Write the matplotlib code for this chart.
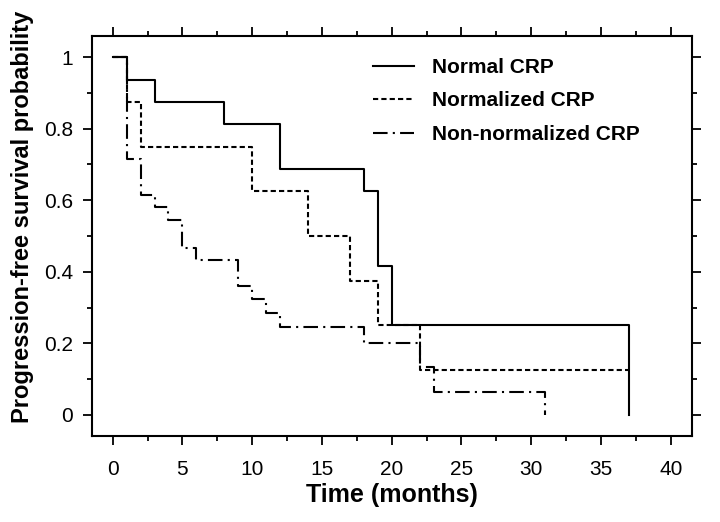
import matplotlib
matplotlib.use("Agg")
import matplotlib.pyplot as plt
from matplotlib.ticker import MultipleLocator

# ---- data ----
normal_t = [0, 1, 3, 8, 12, 18, 19, 20, 37]
normal_s = [1.0, 0.9375, 0.875, 0.8125, 0.6875, 0.625, 0.417, 0.25, 0.0]

normalized_t = [0, 1, 2, 10, 14, 17, 19, 22, 37]
normalized_s = [1.0, 0.875, 0.75, 0.625, 0.5, 0.375, 0.25, 0.125, 0.125]

nonnorm_t = [0, 1, 2, 3, 4, 5, 6, 9, 10, 11, 12, 18, 22, 23, 31]
nonnorm_s = [1.0, 0.714, 0.614, 0.58, 0.544, 0.467, 0.432, 0.361, 0.325,
             0.286, 0.246, 0.20, 0.135, 0.065, 0.0]

labels = ["Normal CRP", "Normalized CRP", "Non-normalized CRP"]
x_ticks = [0, 5, 10, 15, 20, 25, 30, 35, 40]
y_ticks = [0, 0.2, 0.4, 0.6, 0.8, 1.0]
y_ticklabels = ["0", "0.2", "0.4", "0.6", "0.8", "1"]

plt.rcParams['font.family'] = ['Liberation Sans', 'DejaVu Sans']

fig = plt.figure(figsize=(7.2, 5.22), dpi=100)
ax = fig.add_axes([0.1274, 0.1648, 0.8333, 0.7668])

lw = 1.5
ax.plot(normal_t, normal_s, drawstyle='steps-post', color='black', lw=lw,
        linestyle='-', label=labels[0])
ax.plot(normalized_t, normalized_s, drawstyle='steps-post', color='black', lw=lw,
        linestyle=(0, (2.5, 1.5)), label=labels[1])
ax.plot(nonnorm_t, nonnorm_s, drawstyle='steps-post', color='black', lw=lw,
        linestyle=(0, (7, 2.5, 1, 2.5)), label=labels[2])

ax.set_xlim(-1.5, 41.5)
ax.set_ylim(-0.059, 1.06)

ax.set_xticks(x_ticks)
ax.set_xticklabels([str(v) for v in x_ticks])
ax.set_yticks(y_ticks)
ax.set_yticklabels(y_ticklabels)
ax.xaxis.set_minor_locator(MultipleLocator(2.5))
ax.yaxis.set_minor_locator(MultipleLocator(0.1))

ax.tick_params(which='both', direction='out', top=True, right=True,
               labeltop=False, labelright=False, width=1.3, color='black')
ax.tick_params(which='major', length=6.5, labelsize=15)
ax.tick_params(axis='x', which='major', pad=11)
ax.tick_params(axis='y', which='major', pad=7)
ax.tick_params(which='minor', length=3.5)

for sp in ax.spines.values():
    sp.set_linewidth(1.5)
    sp.set_color('black')

ax.set_xlabel("Time (months)", fontsize=18, fontweight='bold', labelpad=3)
ax.set_ylabel("Progression-free survival probability", fontsize=17,
              fontweight='bold', labelpad=6)
ax.yaxis.set_label_coords(-0.097, 0.547)

leg = ax.legend(loc='upper left', bbox_to_anchor=(0.468, 0.944), frameon=False,
                prop={'size': 15, 'weight': 'bold'}, handlelength=2.0,
                handletextpad=0.86, labelspacing=0.69, borderpad=0,
                borderaxespad=0)

fig.savefig("out.png", dpi=100)
